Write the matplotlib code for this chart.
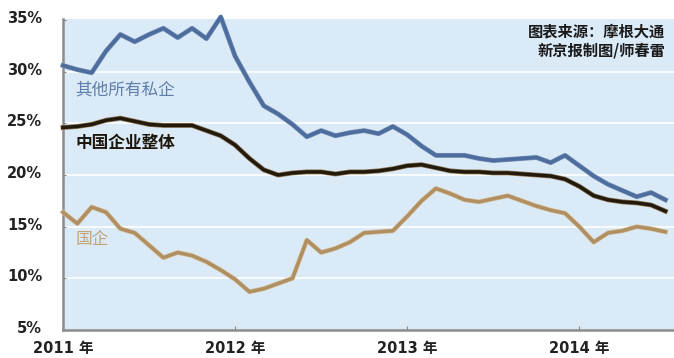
import matplotlib
matplotlib.use('Agg')
import matplotlib.pyplot as plt
import matplotlib.patheffects as pe
import matplotlib.transforms as mtrans
import numpy as np

plt.rcParams['font.family'] = ['Noto Sans CJK SC', 'DejaVu Sans']

# monthly readings, Jan 2011 .. Jul 2014
months = np.arange(43)
private_other = [30.6, 30.2, 29.9, 32.0, 33.6, 32.9, 33.6, 34.2, 33.3, 34.2, 33.2, 35.3,
                 31.5, 29.0, 26.7, 25.9, 24.9, 23.7, 24.3, 23.8, 24.1, 24.3, 24.0, 24.7,
                 23.9, 22.8, 21.9, 21.9, 21.9, 21.6, 21.4, 21.5, 21.6, 21.7, 21.2, 21.9,
                 20.9, 19.9, 19.1, 18.5, 17.9, 18.3, 17.6]
all_firms = [24.6, 24.7, 24.9, 25.3, 25.5, 25.2, 24.9, 24.8, 24.8, 24.8, 24.3, 23.8,
             22.9, 21.6, 20.5, 20.0, 20.2, 20.3, 20.3, 20.1, 20.3, 20.3, 20.4, 20.6,
             20.9, 21.0, 20.7, 20.4, 20.3, 20.3, 20.2, 20.2, 20.1, 20.0, 19.9, 19.6,
             18.9, 18.0, 17.6, 17.4, 17.3, 17.1, 16.5]
state_owned = [16.4, 15.3, 16.9, 16.4, 14.8, 14.4, 13.2, 12.0, 12.5, 12.2, 11.6, 10.8,
               9.9, 8.7, 9.0, 9.5, 10.0, 13.7, 12.5, 12.9, 13.5, 14.4, 14.5, 14.6,
               16.0, 17.5, 18.7, 18.2, 17.6, 17.4, 17.7, 18.0, 17.5, 17.0, 16.6, 16.3,
               15.0, 13.5, 14.4, 14.6, 15.0, 14.8, 14.5]

year_ticks = [0, 12, 24, 36]
year_labels = ['2011 年', '2012 年', '2013 年', '2014 年']
pct_ticks = [5, 10, 15, 20, 25, 30, 35]

fig = plt.figure(figsize=(6.74, 3.58), dpi=100)
ax = fig.add_axes([63 / 674, 28 / 358, 1 - 63 / 674, 311 / 358])
ax.set_facecolor('#dbeaf7')

ax.set_xlim(0, 42.6)
ax.set_ylim(5, 35.1)
for v in [10, 15, 20, 25, 30]:
    ax.axhline(v, color='white', lw=1.2, zorder=1)

ax.plot(months, state_owned, color='#b08f62', lw=2.5, zorder=3, clip_on=False,
        path_effects=[pe.Stroke(linewidth=3.4, foreground='#d6bf98'), pe.Normal()])
ax.plot(months, all_firms, color='#231a0e', lw=2.5, zorder=4, clip_on=False,
        path_effects=[pe.Stroke(linewidth=3.5, foreground='#8a7450'), pe.Normal()])
ax.plot(months, private_other, color='#4c6d9e', lw=2.6, zorder=5, clip_on=False,
        path_effects=[pe.Stroke(linewidth=3.5, foreground='#7a93b8'), pe.Normal()])

ax.text(0.85, 28.2, '其他所有私企', color='#5f7eab', fontsize=12, va='center')
ax.text(0.85, 23.1, '中国企业整体', color='#1c160c', fontsize=12, va='center',
        fontweight='bold')
ax.text(0.85, 13.8, '国企', color='#c2a47a', fontsize=12, va='center')
ax.text(42.0, 34.7, '图表来源：摩根大通\n新京报制图/师春雷', ha='right', va='top',
        fontsize=11, fontweight='bold', color='#1a1a1a', linespacing=1.25)

tick_font = ['DejaVu Sans', 'Noto Sans CJK SC']
ax.set_xticks(year_ticks)
ax.set_xticklabels(year_labels, fontsize=10.5, fontweight='bold', color='#222222',
                   family=tick_font)
ax.set_yticks(pct_ticks)
ax.set_yticklabels([f'{v}%' for v in pct_ticks], fontsize=10.5, fontweight='bold',
                   color='#222222', family=tick_font)
ax.tick_params(axis='x', length=3, direction='in', color='#888888', pad=8)
ax.tick_params(axis='y', length=2, direction='in', color='#888888', pad=15)
shift = mtrans.ScaledTranslation(0, 3 / 100, fig.dpi_scale_trans)
for lbl in ax.get_yticklabels():
    lbl.set_transform(lbl.get_transform() + shift)

for side in ['top', 'right']:
    ax.spines[side].set_visible(False)
for side in ['left', 'bottom']:
    ax.spines[side].set_color('#8c8c8c')
    ax.spines[side].set_linewidth(1.8)

fig.savefig('out.png', dpi=100)
